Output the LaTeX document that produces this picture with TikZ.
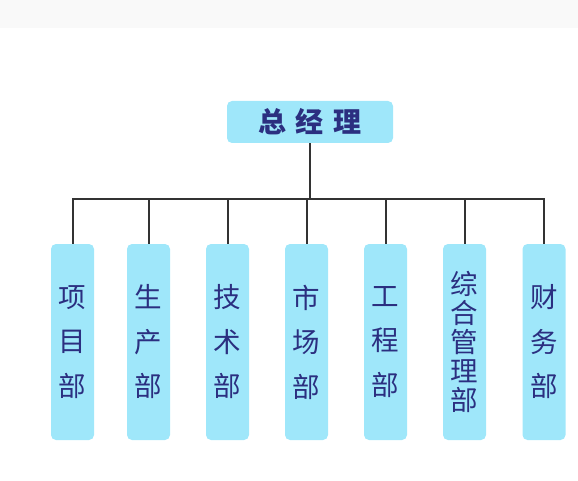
\documentclass[tikz,border=0pt]{standalone}
\usepackage{fontspec}
\newfontfamily\cjk{Noto Sans CJK SC}
\usepackage{tikz}
\usetikzlibrary{positioning}

\definecolor{boxcyan}{HTML}{9FE7FA}
\definecolor{txtnavy}{HTML}{2B2F80}
\definecolor{linegray}{HTML}{333333}
\definecolor{bandgray}{HTML}{F9F9F9}

\begin{document}
\begin{tikzpicture}[x=1pt,y=-1pt,
  topbox/.style={rectangle,rounded corners=5pt,fill=boxcyan,minimum width=166pt,minimum height=42pt,
    text=txtnavy,font=\cjk\bfseries\fontsize{28}{30}\selectfont,inner sep=0pt},
  deptbox/.style={rectangle,rounded corners=5pt,fill=boxcyan,minimum width=43pt,minimum height=196pt,
    text=txtnavy,align=center,inner sep=0pt},
  wide/.style={font=\cjk\fontsize{27.5}{44.5}\selectfont},
  tight/.style={font=\cjk\fontsize{27.5}{29}\selectfont},
  conn/.style={draw=linegray,line width=2pt}
]
\useasboundingbox (0,0) rectangle (578,481);
\fill[bandgray] (0,0) rectangle (578,28);

\node[topbox] (gm) at (310,122) {总\hspace{10pt}经\hspace{10pt}理};

% departments
\node[deptbox,wide]  (d1) at (72.5,342)  {项\\目\\部};
\node[deptbox,wide]  (d2) at (148.5,342) {生\\产\\部};
\node[deptbox,wide]  (d3) at (227.5,342) {技\\术\\部};
\node[deptbox,wide]  (d4) at (306.5,342) {市\\场\\部};
\node[deptbox,wide]  (d5) at (385.5,342) {工\\程\\部};
\node[deptbox,tight] (d6) at (464.5,342) {综\\合\\管\\理\\部};
\node[deptbox,wide]  (d7) at (544,342)   {财\\务\\部};

\coordinate (bus) at (310,199);
\draw[conn] (gm.south) -- (bus);
\draw[conn,line cap=rect] (d1.north |- bus) -- (d7.north |- bus);
\foreach \i in {1,...,7}
  \draw[conn] (d\i.north) -- (d\i.north |- bus);
\end{tikzpicture}
\end{document}
